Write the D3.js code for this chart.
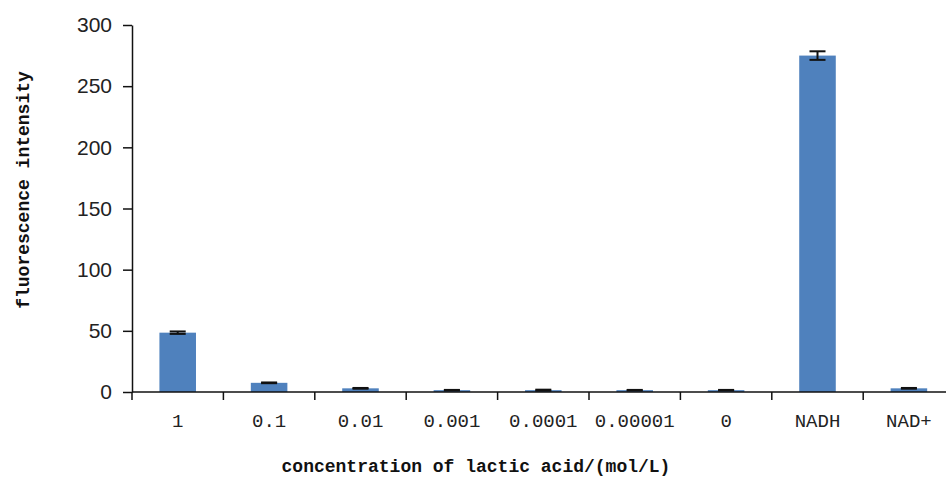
<!DOCTYPE html>
<html>
<head>
<meta charset="utf-8">
<script src="https://cdn.jsdelivr.net/npm/d3@7"></script>
<style>
  body { margin: 0; background: #fff; }
  .tick-y { font-family: "Liberation Sans", Arial, sans-serif; font-size: 21px; fill: #222; }
  .tick-x { font-family: "Liberation Mono", monospace; font-size: 19px; fill: #222; }
  .axis-title { font-family: "Liberation Mono", monospace; font-size: 18px; font-weight: bold; fill: #111; }
</style>
</head>
<body>
<div id="chart"></div>
<script>
var categories = ["1", "0.1", "0.01", "0.001", "0.0001", "0.00001", "0", "NADH", "NAD+"];
var values = [48.5, 7.5, 3, 1.5, 1.5, 1.5, 1.5, 275, 3];
var errors = [1, 0.3, 0.3, 0.2, 0.4, 0.2, 0.2, 3.5, 0.3];
var yTicks = [0, 50, 100, 150, 200, 250, 300];

var width = 946;
var height = 483;
var plotLeft = 132;
var plotBottom = 392;
var plotTop = 25;
var plotRight = 954.6;

var svg = d3.select("#chart").append("svg")
  .attr("width", width)
  .attr("height", height);

var x = d3.scaleBand()
  .domain(categories)
  .range([plotLeft, plotRight])
  .paddingInner(0.6)
  .paddingOuter(0.3);

var y = d3.scaleLinear()
  .domain([0, 300])
  .range([plotBottom, plotTop]);

var step = x.step();

function bandStart(d) {
  return x(d) + x.bandwidth() / 2 - step / 2;
}

function barCenter(i) {
  return x(categories[i]) + x.bandwidth() / 2;
}

// bars
svg.selectAll("rect.bar")
  .data(values)
  .enter()
  .append("rect")
  .attr("class", "bar")
  .attr("x", function (d, i) { return x(categories[i]); })
  .attr("width", x.bandwidth())
  .attr("y", function (d) { return y(d); })
  .attr("height", function (d) { return plotBottom - y(d); })
  .attr("fill", "#4f81bd");

// error bars
var capHalf = 8;
var errGroup = svg.selectAll("g.err")
  .data(values)
  .enter()
  .append("g")
  .attr("class", "err")
  .attr("stroke", "#111")
  .attr("stroke-width", 2);

errGroup.append("line")
  .attr("x1", function (d, i) { return barCenter(i); })
  .attr("x2", function (d, i) { return barCenter(i); })
  .attr("y1", function (d, i) { return y(d + errors[i]); })
  .attr("y2", function (d, i) { return y(d - errors[i]); });

[1, -1].forEach(function (sign) {
  errGroup.append("line")
    .attr("x1", function (d, i) { return barCenter(i) - capHalf; })
    .attr("x2", function (d, i) { return barCenter(i) + capHalf; })
    .attr("y1", function (d, i) { return y(d + sign * errors[i]); })
    .attr("y2", function (d, i) { return y(d + sign * errors[i]); });
});

// y axis
var yAxis = d3.axisLeft(y)
  .tickValues(yTicks)
  .tickSizeInner(9)
  .tickSizeOuter(0)
  .tickPadding(11);

var gy = svg.append("g")
  .attr("transform", "translate(" + plotLeft + ",0)")
  .call(yAxis)
  .attr("font-size", null)
  .attr("font-family", null);
gy.select(".domain").attr("stroke", "#111").attr("stroke-width", 1.5);
gy.selectAll(".tick line").attr("stroke", "#111").attr("stroke-width", 1.5);
gy.selectAll(".tick text").attr("class", "tick-y").attr("fill", null);

// x axis line with ticks on category boundaries
svg.append("line")
  .attr("x1", plotLeft)
  .attr("x2", width)
  .attr("y1", plotBottom)
  .attr("y2", plotBottom)
  .attr("stroke", "#111")
  .attr("stroke-width", 1.5);

svg.selectAll("line.xtick")
  .data(categories)
  .enter()
  .append("line")
  .attr("class", "xtick")
  .attr("x1", function (d) { return bandStart(d); })
  .attr("x2", function (d) { return bandStart(d); })
  .attr("y1", plotBottom)
  .attr("y2", plotBottom + 8)
  .attr("stroke", "#111")
  .attr("stroke-width", 1.5);

svg.selectAll("text.tick-x")
  .data(categories)
  .enter()
  .append("text")
  .attr("class", "tick-x")
  .attr("x", function (d) { return x(d) + x.bandwidth() / 2; })
  .attr("y", 427)
  .attr("text-anchor", "middle")
  .text(function (d) { return d; });

// axis titles
svg.append("text")
  .attr("class", "axis-title")
  .attr("transform", "translate(29,190) rotate(-90)")
  .attr("text-anchor", "middle")
  .text("fluorescence intensity");

svg.append("text")
  .attr("class", "axis-title")
  .attr("x", 476)
  .attr("y", 472)
  .attr("text-anchor", "middle")
  .text("concentration of lactic acid/(mol/L)");
</script>
</body>
</html>
